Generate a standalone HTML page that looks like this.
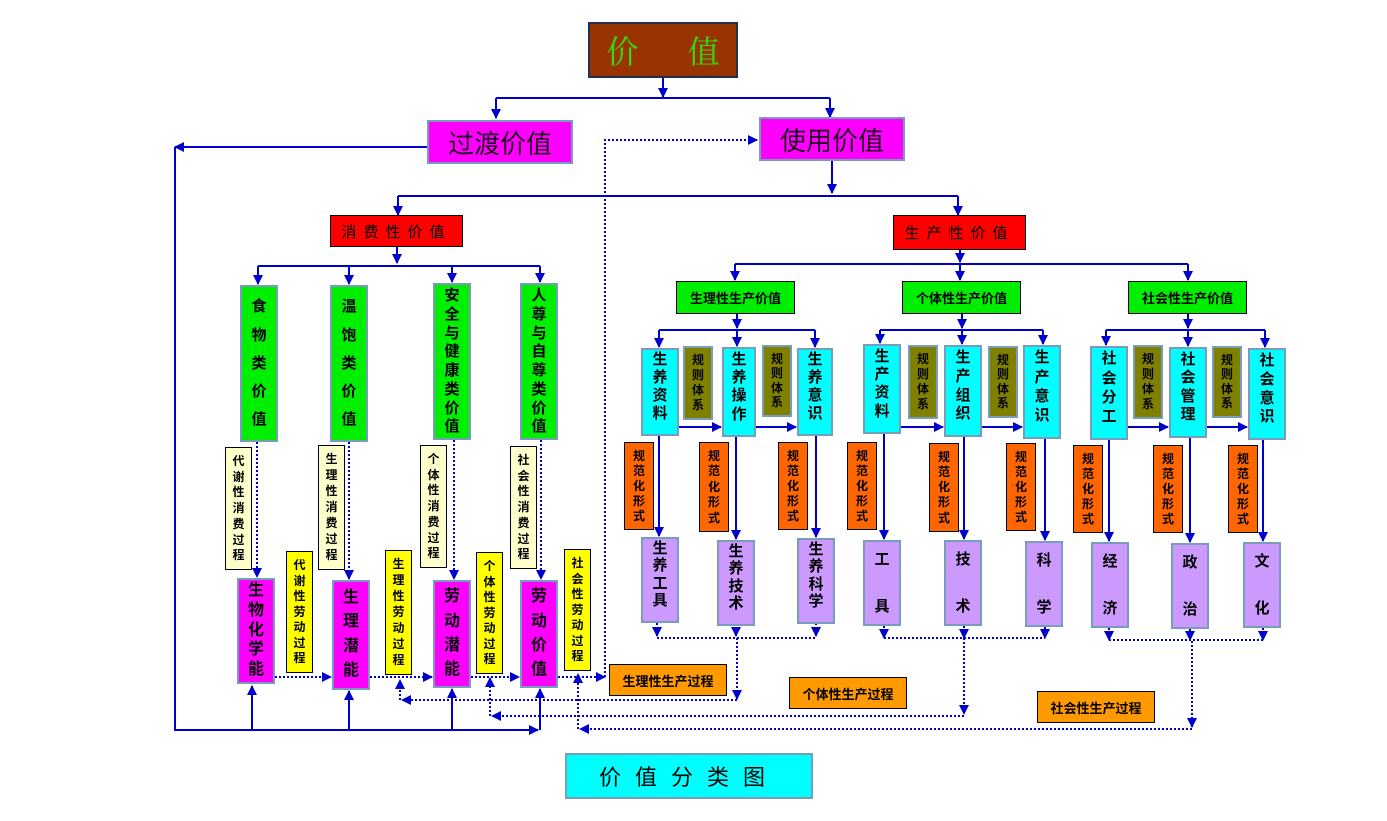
<!DOCTYPE html>
<html><head><meta charset="utf-8">
<style>
body{margin:0;width:1387px;height:821px;background:#fff;position:relative;overflow:hidden;font-family:"Liberation Sans","Noto Sans CJK SC","WenQuanYi Zen Hei",sans-serif;font-weight:bold;}
.b{position:absolute;box-sizing:border-box;display:flex;align-items:center;justify-content:center;color:#000;}
.v{flex-direction:column;justify-content:space-evenly;line-height:1.05;}
.vt{flex-direction:column;justify-content:space-evenly;padding-bottom:10px;line-height:1.05;}
.v span,.vt span{display:block;}
.g{background:#00ee00;border:2px solid #7a9cbc;font-size:15px;}
.m{background:#ff00ff;border:2px solid #7a9cbc;font-size:16px;}
.c{background:#00ffff;border:2px solid #7a9cbc;font-size:15px;}
.p{background:#cc99ff;border:2px solid #7a9cbc;font-size:15px;}
.ly{background:#ffffcc;border:1px solid #000;font-size:12px;padding:4px 0;}
.y{background:#ffff00;border:1px solid #000;font-size:12px;padding:4px 0;}
.o{background:#ff6600;border:1px solid #000;font-size:12px;padding:4px 0;}
.ol{background:#808000;border:2px solid #7a9cbc;font-size:12px;padding:4px 0;}
.r{background:#ff0000;border:1px solid #000;font-size:15px;font-weight:normal;letter-spacing:7px;}
.gg{background:#00ee00;border:1px solid #000;font-size:13px;}
.or{background:#ff9900;border:1px solid #000;font-size:13px;}
svg{position:absolute;left:0;top:0;}
</style></head><body>
<svg width="1387" height="821">
<defs>
<marker id="a" viewBox="0 0 10 10" refX="9" refY="5" markerWidth="10" markerHeight="10" markerUnits="userSpaceOnUse" orient="auto"><path d="M0,0L10,5L0,10z" fill="#0000cc"/></marker>
</defs>
<g stroke="#0000cc" stroke-width="2" fill="none" marker-end="url(#a)">
<path d="M663 78V97" /><path d="M496 98V118"/><path d="M830 98V117"/>
<path d="M427 147H175"/><path d="M175 147V730H538"/>
<path d="M252 730V686"/><path d="M349 730V691"/><path d="M452 730V689"/><path d="M540 730V689"/>
<path d="M832 161V193"/><path d="M398 196V215"/><path d="M958 196V215"/>
<path d="M397 247V263"/><path d="M258 266V284"/><path d="M349 266V284"/><path d="M452 266V282"/><path d="M540 266V282"/>
<path d="M960 250V262"/><path d="M735 264V280"/><path d="M960 264V280"/><path d="M1188 264V280"/>
<path d="M737 314V328"/><path d="M659 330V347"/><path d="M737 330V346"/><path d="M815 330V347"/>
<path d="M962 314V328"/><path d="M880 330V343"/><path d="M962 330V344"/><path d="M1043 330V344"/>
<path d="M1188 314V328"/><path d="M1106 330V345"/><path d="M1188 330V346"/><path d="M1265 330V347"/>
<path d="M679 427H721"/><path d="M756 427H796"/><path d="M901 427H943"/><path d="M982 427H1022"/><path d="M1128 427H1168"/><path d="M1207 427H1247"/>
<path d="M659 436V536"/><path d="M736 437V539"/><path d="M816 436V537"/><path d="M884 434V539"/><path d="M964 437V539"/><path d="M1045 439V540"/><path d="M1109 440V541"/><path d="M1190 438V542"/><path d="M1263 440V541"/>
</g>
<path d="M398 196H958M496 98H830M258 266H540M735 264H1188M659 330H815M880 330H1043M1106 330H1265" stroke="#0000cc" stroke-width="2" fill="none"/>
<g stroke="#0000cc" stroke-width="2" stroke-dasharray="2 2" fill="none" marker-end="url(#a)">
<path d="M257 442V577"/><path d="M349 442V579"/><path d="M454 440V579"/><path d="M541 440V579"/>
<path d="M275 677H331"/><path d="M370 677H432"/><path d="M471 677H519"/><path d="M558 677H605"/>
<path d="M605 677V140H757"/>
<path d="M657 623V636"/><path d="M736 623V636"/><path d="M816 623V636"/>
<path d="M884 626V638"/><path d="M964 626V638"/><path d="M1045 627V638"/>
<path d="M1109 628V640"/><path d="M1190 629V640"/><path d="M1263 628V640"/>
<path d="M737 638V699"/><path d="M737 700H402"/>
<path d="M964 638V714"/><path d="M964 716H492"/>
<path d="M1192 641V727"/><path d="M1192 729H580"/>
<path d="M400 700V680"/><path d="M490 716V678"/><path d="M578 729V674"/>
</g>
<path d="M657 638H816M884 638H1045M1109 640H1263" stroke="#0000cc" stroke-width="2" stroke-dasharray="2 2"/>
</svg>

<div class="b" style="left:588px;top:22px;width:150px;height:56px;background:#993300;border:2px solid #203050;color:#33dd11;font-size:32px;font-weight:normal;font-family:'Noto Serif CJK SC',serif;">价&nbsp;&nbsp;&nbsp;&nbsp;&nbsp;&nbsp;值</div>
<div class="b" style="left:427px;top:120px;width:146px;height:44px;background:#ff00ff;border:2px solid #7a9cbc;font-size:26px;font-weight:normal;color:#220022;">过渡价值</div>
<div class="b" style="left:759px;top:117px;width:146px;height:44px;background:#ff00ff;border:2px solid #7a9cbc;font-size:26px;font-weight:normal;color:#220022;">使用价值</div>
<div class="b r" style="left:330px;top:215px;width:133px;height:32px;">消费性价值</div>
<div class="b r" style="left:893px;top:215px;width:133px;height:35px;">生产性价值</div>

<div class="b g v" style="left:240px;top:285px;width:38px;height:157px;"><span>食</span><span>物</span><span>类</span><span>价</span><span>值</span></div>
<div class="b g v" style="left:330px;top:285px;width:38px;height:157px;"><span>温</span><span>饱</span><span>类</span><span>价</span><span>值</span></div>
<div class="b g v" style="left:433px;top:283px;width:38px;height:157px;"><span>安</span><span>全</span><span>与</span><span>健</span><span>康</span><span>类</span><span>价</span><span>值</span></div>
<div class="b g v" style="left:520px;top:283px;width:38px;height:157px;"><span>人</span><span>尊</span><span>与</span><span>自</span><span>尊</span><span>类</span><span>价</span><span>值</span></div>

<div class="b ly v" style="left:225px;top:447px;width:27px;height:123px;"><span>代</span><span>谢</span><span>性</span><span>消</span><span>费</span><span>过</span><span>程</span></div>
<div class="b ly v" style="left:318px;top:445px;width:27px;height:125px;"><span>生</span><span>理</span><span>性</span><span>消</span><span>费</span><span>过</span><span>程</span></div>
<div class="b ly v" style="left:420px;top:445px;width:27px;height:123px;"><span>个</span><span>体</span><span>性</span><span>消</span><span>费</span><span>过</span><span>程</span></div>
<div class="b ly v" style="left:510px;top:446px;width:27px;height:123px;"><span>社</span><span>会</span><span>性</span><span>消</span><span>费</span><span>过</span><span>程</span></div>

<div class="b m v" style="left:237px;top:578px;width:38px;height:106px;"><span>生</span><span>物</span><span>化</span><span>学</span><span>能</span></div>
<div class="b m v" style="left:332px;top:580px;width:38px;height:110px;"><span>生</span><span>理</span><span>潜</span><span>能</span></div>
<div class="b m v" style="left:433px;top:580px;width:38px;height:108px;"><span>劳</span><span>动</span><span>潜</span><span>能</span></div>
<div class="b m v" style="left:520px;top:580px;width:38px;height:108px;"><span>劳</span><span>动</span><span>价</span><span>值</span></div>

<div class="b y v" style="left:286px;top:551px;width:27px;height:122px;"><span>代</span><span>谢</span><span>性</span><span>劳</span><span>动</span><span>过</span><span>程</span></div>
<div class="b y v" style="left:385px;top:550px;width:27px;height:125px;"><span>生</span><span>理</span><span>性</span><span>劳</span><span>动</span><span>过</span><span>程</span></div>
<div class="b y v" style="left:476px;top:552px;width:27px;height:122px;"><span>个</span><span>体</span><span>性</span><span>劳</span><span>动</span><span>过</span><span>程</span></div>
<div class="b y v" style="left:564px;top:549px;width:27px;height:122px;"><span>社</span><span>会</span><span>性</span><span>劳</span><span>动</span><span>过</span><span>程</span></div>

<div class="b or" style="left:609px;top:664px;width:118px;height:32px;">生理性生产过程</div>
<div class="b or" style="left:789px;top:677px;width:118px;height:32px;">个体性生产过程</div>
<div class="b or" style="left:1037px;top:691px;width:118px;height:32px;">社会性生产过程</div>

<div class="b" style="left:565px;top:753px;width:248px;height:46px;background:#00ffff;border:2px solid #7a9cbc;font-size:22px;font-weight:normal;letter-spacing:14px;">价值分类图</div>

<div class="b gg" style="left:676px;top:281px;width:119px;height:33px;">生理性生产价值</div>
<div class="b gg" style="left:902px;top:281px;width:119px;height:33px;">个体性生产价值</div>
<div class="b gg" style="left:1128px;top:281px;width:119px;height:33px;">社会性生产价值</div>

<div class="b c vt" style="left:641px;top:348px;width:38px;height:88px;"><span>生</span><span>养</span><span>资</span><span>料</span></div>
<div class="b c vt" style="left:722px;top:347px;width:34px;height:90px;"><span>生</span><span>养</span><span>操</span><span>作</span></div>
<div class="b c vt" style="left:797px;top:348px;width:36px;height:88px;"><span>生</span><span>养</span><span>意</span><span>识</span></div>
<div class="b c vt" style="left:863px;top:344px;width:38px;height:90px;"><span>生</span><span>产</span><span>资</span><span>料</span></div>
<div class="b c vt" style="left:944px;top:345px;width:38px;height:92px;"><span>生</span><span>产</span><span>组</span><span>织</span></div>
<div class="b c vt" style="left:1023px;top:345px;width:38px;height:94px;"><span>生</span><span>产</span><span>意</span><span>识</span></div>
<div class="b c vt" style="left:1090px;top:346px;width:38px;height:94px;"><span>社</span><span>会</span><span>分</span><span>工</span></div>
<div class="b c vt" style="left:1169px;top:347px;width:38px;height:91px;"><span>社</span><span>会</span><span>管</span><span>理</span></div>
<div class="b c vt" style="left:1248px;top:348px;width:38px;height:92px;"><span>社</span><span>会</span><span>意</span><span>识</span></div>

<div class="b ol v" style="left:683px;top:346px;width:30px;height:74px;"><span>规</span><span>则</span><span>体</span><span>系</span></div>
<div class="b ol v" style="left:762px;top:345px;width:30px;height:72px;"><span>规</span><span>则</span><span>体</span><span>系</span></div>
<div class="b ol v" style="left:908px;top:345px;width:30px;height:74px;"><span>规</span><span>则</span><span>体</span><span>系</span></div>
<div class="b ol v" style="left:988px;top:346px;width:30px;height:72px;"><span>规</span><span>则</span><span>体</span><span>系</span></div>
<div class="b ol v" style="left:1133px;top:345px;width:30px;height:74px;"><span>规</span><span>则</span><span>体</span><span>系</span></div>
<div class="b ol v" style="left:1212px;top:346px;width:30px;height:72px;"><span>规</span><span>则</span><span>体</span><span>系</span></div>

<div class="b o v" style="left:624px;top:442px;width:30px;height:88px;"><span>规</span><span>范</span><span>化</span><span>形</span><span>式</span></div>
<div class="b o v" style="left:699px;top:442px;width:30px;height:90px;"><span>规</span><span>范</span><span>化</span><span>形</span><span>式</span></div>
<div class="b o v" style="left:778px;top:442px;width:30px;height:88px;"><span>规</span><span>范</span><span>化</span><span>形</span><span>式</span></div>
<div class="b o v" style="left:847px;top:442px;width:30px;height:88px;"><span>规</span><span>范</span><span>化</span><span>形</span><span>式</span></div>
<div class="b o v" style="left:929px;top:443px;width:30px;height:89px;"><span>规</span><span>范</span><span>化</span><span>形</span><span>式</span></div>
<div class="b o v" style="left:1006px;top:443px;width:30px;height:88px;"><span>规</span><span>范</span><span>化</span><span>形</span><span>式</span></div>
<div class="b o v" style="left:1073px;top:445px;width:30px;height:88px;"><span>规</span><span>范</span><span>化</span><span>形</span><span>式</span></div>
<div class="b o v" style="left:1153px;top:445px;width:30px;height:88px;"><span>规</span><span>范</span><span>化</span><span>形</span><span>式</span></div>
<div class="b o v" style="left:1228px;top:445px;width:30px;height:88px;"><span>规</span><span>范</span><span>化</span><span>形</span><span>式</span></div>

<div class="b p vt" style="left:641px;top:537px;width:38px;height:86px;"><span>生</span><span>养</span><span>工</span><span>具</span></div>
<div class="b p vt" style="left:717px;top:540px;width:38px;height:86px;"><span>生</span><span>养</span><span>技</span><span>术</span></div>
<div class="b p vt" style="left:797px;top:538px;width:38px;height:86px;"><span>生</span><span>养</span><span>科</span><span>学</span></div>
<div class="b p" style="left:863px;top:540px;width:38px;height:86px;flex-direction:column;justify-content:space-between;padding:6px 0 8px;"><span>工</span><span>具</span></div>
<div class="b p" style="left:944px;top:540px;width:38px;height:86px;flex-direction:column;justify-content:space-between;padding:6px 0 8px;"><span>技</span><span>术</span></div>
<div class="b p" style="left:1025px;top:541px;width:38px;height:86px;flex-direction:column;justify-content:space-between;padding:6px 0 8px;"><span>科</span><span>学</span></div>
<div class="b p" style="left:1091px;top:542px;width:38px;height:86px;flex-direction:column;justify-content:space-between;padding:6px 0 8px;"><span>经</span><span>济</span></div>
<div class="b p" style="left:1171px;top:543px;width:38px;height:86px;flex-direction:column;justify-content:space-between;padding:6px 0 8px;"><span>政</span><span>治</span></div>
<div class="b p" style="left:1243px;top:542px;width:38px;height:86px;flex-direction:column;justify-content:space-between;padding:6px 0 8px;"><span>文</span><span>化</span></div>
</body></html>
